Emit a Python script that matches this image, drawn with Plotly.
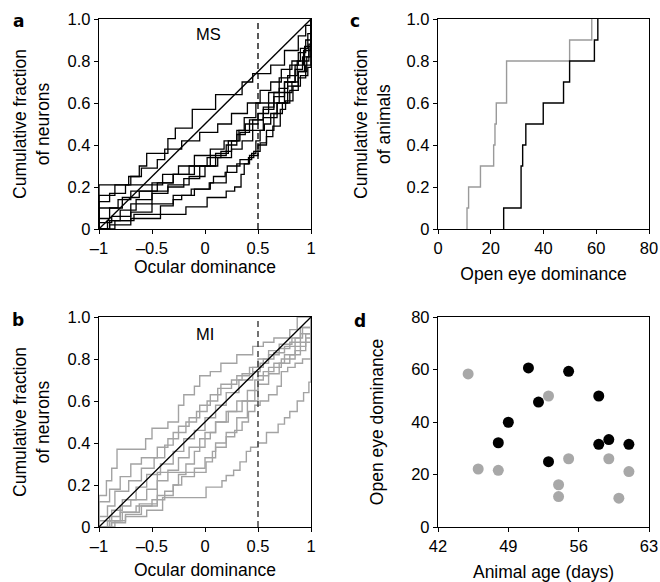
import numpy as np
import plotly.graph_objects as go

# ---------------- data ----------------
# Panel a (MS): cumulative fraction of neurons vs ocular dominance (step CDFs)
ms_x = [
    [-1, -1, -0.72, -0.62, -0.55, -0.35, -0.28, -0.12, 0.1, 0.35, 0.45, 0.62, 0.75, 0.88, 0.95, 1],
    [-1, -1, -0.85, -0.7, -0.6, -0.45, -0.38, -0.22, -0.05, 0.12, 0.25, 0.4, 0.52, 0.62, 0.72, 0.82, 0.9, 0.97, 1],
    [-1, -1, -0.9, -0.75, -0.4, -0.25, -0.1, 0.05, 0.18, 0.3, 0.37, 0.48, 0.6, 0.7, 0.8, 0.88, 0.95, 1],
    [-1, -1, -0.82, -0.7, -0.5, -0.3, -0.15, 0.02, 0.15, 0.25, 0.33, 0.42, 0.55, 0.65, 0.75, 0.85, 0.92, 0.98, 1],
    [-1, -1, -0.9, -0.78, -0.62, -0.45, -0.3, -0.1, 0.05, 0.2, 0.3, 0.38, 0.5, 0.6, 0.7, 0.78, 0.87, 0.94, 1],
    [-1, -1, -0.88, -0.7, -0.5, -0.35, -0.2, -0.05, 0.1, 0.22, 0.32, 0.45, 0.55, 0.65, 0.75, 0.85, 0.93, 1],
    [-1, -0.92, -0.8, -0.65, -0.5, -0.35, -0.15, 0.0, 0.12, 0.25, 0.35, 0.45, 0.55, 0.68, 0.78, 0.88, 0.96, 1],
    [-1, -0.85, -0.7, -0.5, -0.3, -0.1, 0.05, 0.2, 0.3, 0.42, 0.5, 0.58, 0.65, 0.73, 0.8, 0.88, 0.95, 1],
    [-1, -0.9, -0.7, -0.42, -0.3, -0.22, -0.13, 0.04, 0.08, 0.19, 0.21, 0.33, 0.44, 0.48, 0.52, 0.56, 0.62, 0.68, 0.75, 0.82, 0.88, 0.94, 0.98, 1],
    [-1, -0.9, -0.67, -0.18, 0.02, 0.2, 0.28, 0.34, 0.37, 0.41, 0.46, 0.52, 0.58, 0.64, 0.71, 0.76, 0.83, 0.9, 0.97, 1],
]
ms_y = [
    [0, 0.21, 0.25, 0.3, 0.36, 0.43, 0.48, 0.57, 0.64, 0.7, 0.74, 0.78, 0.85, 0.92, 0.97, 1],
    [0, 0.16, 0.21, 0.25, 0.29, 0.33, 0.38, 0.42, 0.46, 0.5, 0.55, 0.6, 0.66, 0.7, 0.76, 0.8, 0.86, 0.93, 1],
    [0, 0.13, 0.17, 0.21, 0.26, 0.3, 0.35, 0.38, 0.42, 0.47, 0.53, 0.6, 0.65, 0.72, 0.78, 0.84, 0.9, 1],
    [0, 0.1, 0.14, 0.18, 0.22, 0.26, 0.3, 0.34, 0.37, 0.42, 0.46, 0.52, 0.57, 0.63, 0.7, 0.76, 0.82, 0.88, 1],
    [0, 0.05, 0.1, 0.15, 0.18, 0.22, 0.26, 0.3, 0.35, 0.4, 0.45, 0.5, 0.55, 0.6, 0.67, 0.73, 0.8, 0.87, 1],
    [0, 0.03, 0.06, 0.12, 0.17, 0.2, 0.24, 0.3, 0.36, 0.42, 0.47, 0.52, 0.58, 0.65, 0.7, 0.78, 0.85, 1],
    [0, 0.04, 0.09, 0.14, 0.18, 0.21, 0.25, 0.3, 0.34, 0.38, 0.42, 0.47, 0.53, 0.6, 0.68, 0.75, 0.82, 1],
    [0, 0.04, 0.08, 0.12, 0.16, 0.19, 0.22, 0.27, 0.31, 0.35, 0.4, 0.47, 0.55, 0.6, 0.66, 0.72, 0.78, 1],
    [0, 0.02, 0.05, 0.11, 0.14, 0.16, 0.19, 0.22, 0.25, 0.27, 0.3, 0.33, 0.36, 0.42, 0.47, 0.5, 0.55, 0.6, 0.65, 0.7, 0.75, 0.8, 0.87, 1],
    [0, 0.04, 0.07, 0.105, 0.15, 0.18, 0.2, 0.26, 0.31, 0.34, 0.37, 0.41, 0.44, 0.49, 0.57, 0.61, 0.68, 0.73, 0.77, 1],
]

# Panel b (MI)
mi_x = [
    [-1, -1, -0.93, -0.88, -0.83, -0.56, -0.5, -0.35, -0.25, -0.2, -0.1, -0.05, 0.05, 0.15, 0.3, 0.45, 0.55, 0.65, 0.8, 0.87, 1],
    [-1, -1, -0.9, -0.8, -0.7, -0.6, -0.45, -0.35, -0.25, -0.15, -0.05, 0.05, 0.15, 0.3, 0.42, 0.5, 0.6, 0.7, 0.82, 0.9, 1],
    [-1, -1, -0.92, -0.85, -0.72, -0.6, -0.48, -0.38, -0.3, -0.18, -0.08, 0.02, 0.12, 0.25, 0.35, 0.45, 0.55, 0.65, 0.75, 0.85, 0.92, 1],
    [-1, -1, -0.88, -0.78, -0.65, -0.55, -0.42, -0.3, -0.2, -0.1, 0.0, 0.1, 0.2, 0.32, 0.45, 0.52, 0.6, 0.7, 0.8, 0.9, 1],
    [-1, -0.9, -0.8, -0.7, -0.55, -0.45, -0.35, -0.25, -0.15, 0.0, 0.1, 0.22, 0.35, 0.47, 0.55, 0.65, 0.75, 0.85, 0.95, 1],
    [-1, -0.92, -0.8, -0.65, -0.5, -0.38, -0.3, -0.22, -0.1, 0.0, 0.1, 0.2, 0.3, 0.4, 0.5, 0.6, 0.7, 0.8, 0.9, 1],
    [-1, -0.85, -0.75, -0.6, -0.45, -0.3, -0.25, -0.18, -0.1, -0.05, 0.05, 0.1, 0.2, 0.3, 0.4, 0.5, 0.6, 0.72, 0.85, 0.95, 1],
    [-1, -0.9, -0.78, -0.62, -0.45, 0.01, 0.07, 0.1, 0.2, 0.28, 0.35, 0.41, 0.47, 0.52, 0.6, 0.68, 0.72, 0.78, 0.85, 0.92, 1],
    [-1, -0.88, -0.75, -0.55, -0.4, 0.01, 0.16, 0.2, 0.27, 0.33, 0.39, 0.43, 0.5, 0.58, 0.69, 0.75, 0.8, 0.87, 0.93, 0.98, 1],
]
mi_y = [
    [0, 0.15, 0.22, 0.28, 0.37, 0.42, 0.47, 0.5, 0.58, 0.63, 0.67, 0.72, 0.74, 0.78, 0.82, 0.86, 0.88, 0.9, 0.94, 1.0, 1],
    [0, 0.12, 0.18, 0.24, 0.3, 0.33, 0.38, 0.42, 0.48, 0.52, 0.58, 0.63, 0.68, 0.72, 0.76, 0.8, 0.84, 0.87, 0.9, 0.95, 1],
    [0, 0.05, 0.1, 0.17, 0.22, 0.28, 0.33, 0.39, 0.45, 0.5, 0.55, 0.6, 0.66, 0.7, 0.73, 0.76, 0.8, 0.83, 0.86, 0.9, 0.95, 1],
    [0, 0.03, 0.08, 0.13, 0.19, 0.25, 0.3, 0.36, 0.42, 0.46, 0.52, 0.58, 0.64, 0.7, 0.74, 0.78, 0.82, 0.85, 0.88, 0.92, 1],
    [0, 0.05, 0.1, 0.13, 0.18, 0.22, 0.27, 0.33, 0.38, 0.45, 0.5, 0.55, 0.6, 0.7, 0.74, 0.78, 0.82, 0.86, 0.92, 1],
    [0, 0.03, 0.07, 0.1, 0.13, 0.17, 0.2, 0.24, 0.28, 0.33, 0.38, 0.45, 0.52, 0.6, 0.68, 0.73, 0.78, 0.82, 0.88, 1],
    [0, 0.03, 0.06, 0.1, 0.15, 0.2, 0.25, 0.3, 0.36, 0.42, 0.45, 0.5, 0.55, 0.6, 0.65, 0.72, 0.76, 0.8, 0.84, 0.9, 1],
    [0, 0.03, 0.07, 0.11, 0.26, 0.31, 0.36, 0.4, 0.43, 0.46, 0.5, 0.55, 0.58, 0.6, 0.63, 0.67, 0.74, 0.76, 0.78, 0.8, 1],
    [0, 0.02, 0.05, 0.08, 0.14, 0.19, 0.22, 0.245, 0.27, 0.31, 0.36, 0.38, 0.4, 0.45, 0.49, 0.52, 0.55, 0.6, 0.64, 0.69, 1],
]

# Panel d: animal age (days) vs open eye dominance
grey_age = [45, 46, 48, 53, 54, 54, 55, 59, 60, 61]
grey_ode = [58.3, 22.1, 21.6, 49.9, 16.1, 11.6, 26.0, 26.0, 11.0, 21.1]
black_age = [48, 49, 51, 52, 53, 55, 58, 58, 59, 61]
black_ode = [32.1, 39.9, 60.6, 47.6, 24.9, 59.3, 49.9, 31.5, 33.3, 31.5]

diag_x = [-1, 1]
diag_y = [0, 1]
od_threshold = 0.5

od_ticks = [-1, -0.5, 0, 0.5, 1]
od_ticktext = ["\u20131", "\u20130.5", "0", "0.5", "1"]
frac_ticks = [0, 0.2, 0.4, 0.6, 0.8, 1.0]
frac_ticktext = ["0", "0.2", "0.4", "0.6", "0.8", "1.0"]
oed_ticks = [0, 20, 40, 60, 80]
age_ticks = [42, 49, 56, 63]

# ---------------- figure ----------------
W, H = 660, 582
FONT = "Liberation Sans, Arial, Helvetica, sans-serif"
GREY = "#a3a3a3"

def dx(p0, p1):
    return [p0 / W, p1 / W]

def dy(top, bottom):
    return [1 - bottom / H, 1 - top / H]

fig = go.Figure()

def step_trace(x, y, color, width, xa, ya):
    fig.add_trace(go.Scatter(x=x, y=y, mode="lines", line=dict(color=color, width=width, shape="hv"),
                             xaxis=xa, yaxis=ya, showlegend=False, hoverinfo="skip", cliponaxis=False))

# Panel a
for x, y in zip(ms_x, ms_y):
    step_trace(x, y, "black", 1.3, "x", "y")
fig.add_trace(go.Scatter(x=diag_x, y=diag_y, mode="lines", line=dict(color="black", width=1.3),
                         xaxis="x", yaxis="y", showlegend=False))
fig.add_trace(go.Scatter(x=[od_threshold, od_threshold], y=[0, 1], mode="lines",
                         line=dict(color="black", width=1.3, dash="6px,4px"),
                         xaxis="x", yaxis="y", showlegend=False))

# Panel b
for x, y in zip(mi_x, mi_y):
    step_trace(x, y, GREY, 1.4, "x3", "y3")
fig.add_trace(go.Scatter(x=diag_x, y=diag_y, mode="lines", line=dict(color="black", width=1.3),
                         xaxis="x3", yaxis="y3", showlegend=False))
fig.add_trace(go.Scatter(x=[od_threshold, od_threshold], y=[0, 1], mode="lines",
                         line=dict(color="#444444", width=1.5, dash="6px,4px"),
                         xaxis="x3", yaxis="y3", showlegend=False))

# Panel c: cumulative fraction of animals
def cdf_xy(vals):
    v = np.sort(np.asarray(vals, dtype=float))
    n = len(v)
    xs = [v[0]] + list(v)
    ys = [0.0] + [(i + 1) / n for i in range(n)]
    return xs, ys

gx, gy = cdf_xy(grey_ode)
bx, by = cdf_xy(black_ode)
step_trace(gx, gy, "#9a9a9a", 1.4, "x2", "y2")
step_trace(bx, by, "black", 1.4, "x2", "y2")

# Panel d
fig.add_trace(go.Scatter(x=grey_age, y=grey_ode, mode="markers",
                         marker=dict(color="#a8a8a8", size=11, line=dict(width=0)),
                         xaxis="x4", yaxis="y4", showlegend=False))
fig.add_trace(go.Scatter(x=black_age, y=black_ode, mode="markers",
                         marker=dict(color="black", size=11, line=dict(width=0)),
                         xaxis="x4", yaxis="y4", showlegend=False))

tickfont = dict(family=FONT, size=16.5, color="black")
titlefont = dict(family=FONT, size=17.5, color="black")
common = dict(showgrid=False, zeroline=False, showline=True, linecolor="black", linewidth=1.3,
              mirror=True, ticks="outside", ticklen=4, tickwidth=1.2, tickcolor="black",
              tickfont=tickfont, automargin=False)

fig.update_layout(
    width=W, height=H, margin=dict(l=0, r=0, t=0, b=0, autoexpand=False),
    paper_bgcolor="white", plot_bgcolor="white",
    font=dict(family=FONT, color="black"),
    xaxis=dict(domain=dx(99, 311), anchor="y", range=[-1, 1], tickvals=od_ticks, ticktext=od_ticktext,
               title=dict(text="Ocular dominance", font=titlefont, standoff=4), **common),
    yaxis=dict(domain=dy(19, 229), anchor="x", range=[0, 1], tickvals=frac_ticks, ticktext=frac_ticktext,
               title=dict(text="Cumulative fraction<br>of neurons", font=titlefont, standoff=13), **common),
    xaxis2=dict(domain=dx(438, 649), anchor="y2", range=[0, 80], tickvals=oed_ticks,
                title=dict(text="Open eye dominance", font=titlefont, standoff=11), **common),
    yaxis2=dict(domain=dy(19, 229), anchor="x2", range=[0, 1], tickvals=frac_ticks, ticktext=frac_ticktext,
                title=dict(text="Cumulative fraction<br>of animals", font=titlefont, standoff=11), **common),
    xaxis3=dict(domain=dx(99, 311), anchor="y3", range=[-1, 1], tickvals=od_ticks, ticktext=od_ticktext,
                title=dict(text="Ocular dominance", font=titlefont, standoff=9), **common),
    yaxis3=dict(domain=dy(317, 527), anchor="x3", range=[0, 1], tickvals=frac_ticks, ticktext=frac_ticktext,
                title=dict(text="Cumulative fraction<br>of neurons", font=titlefont, standoff=13), **common),
    xaxis4=dict(domain=dx(438, 649), anchor="y4", range=[42, 63], tickvals=age_ticks,
                title=dict(text="Animal age (days)", font=titlefont, standoff=13), **common),
    yaxis4=dict(domain=dy(317, 527), anchor="x4", range=[0, 80], tickvals=oed_ticks,
                title=dict(text="Open eye dominance", font=titlefont, standoff=23), **common),
)

# in-panel labels
fig.add_annotation(x=0.03, y=0.93, xref="x", yref="y", text="MS", showarrow=False,
                   font=dict(family=FONT, size=16.5, color="black"))
fig.add_annotation(x=0.0, y=0.92, xref="x3", yref="y3", text="MI", showarrow=False,
                   font=dict(family=FONT, size=16.5, color="black"))

# panel letters
for letter, px, py in [("a", 18, 21), ("c", 355, 21), ("b", 18, 320), ("d", 360, 321)]:
    fig.add_annotation(x=px / W, y=1 - py / H, xref="paper", yref="paper", text="<b>%s</b>" % letter,
                       showarrow=False, xanchor="center", yanchor="middle",
                       font=dict(family="DejaVu Sans, Arial, sans-serif", size=17, color="black"))

fig.write_html("out.html", config={"displayModeBar": False},
               post_script="document.body.style.margin='0px';document.body.style.padding='0px';")
